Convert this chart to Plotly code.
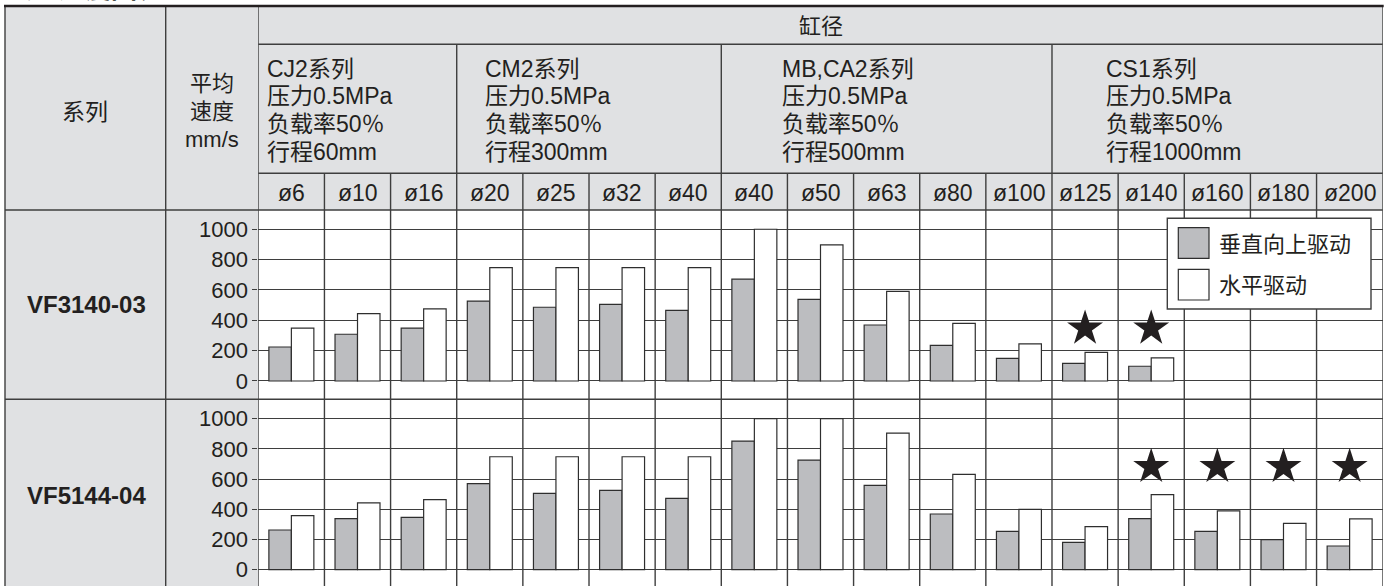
import plotly.graph_objects as go

# ---------------- data ----------------
bores = ["ø6", "ø10", "ø16", "ø20", "ø25", "ø32", "ø40", "ø40", "ø50", "ø63",
         "ø80", "ø100", "ø125", "ø140", "ø160", "ø180", "ø200"]
models = ["VF3140-03", "VF5144-04"]
series_names = ["垂直向上驱动", "水平驱动"]

vf3140_vertical = [224, 308, 349, 527, 486, 505, 466, 672, 538, 369, 235, 149, 116, 97, None, None, None]
vf3140_horizontal = [349, 444, 475, 747, 747, 747, 747, 1000, 897, 591, 380, 244, 189, 152, None, None, None]
vf5144_vertical = [263, 338, 347, 570, 506, 525, 472, 852, 726, 558, 369, 254, 181, 338, 254, 199, 157]
vf5144_horizontal = [358, 442, 464, 748, 748, 748, 748, 1000, 1000, 905, 631, 400, 285, 497, 389, 307, 336]

# columns with a star mark
vf3140_star_cols = [12, 13]
vf5144_star_cols = [13, 14, 15, 16]

group_headers = [
    ["CJ2系列", "压力0.5MPa", "负载率50％", "行程60mm"],
    ["CM2系列", "压力0.5MPa", "负载率50％", "行程300mm"],
    ["MB,CA2系列", "压力0.5MPa", "负载率50％", "行程500mm"],
    ["CS1系列", "压力0.5MPa", "负载率50％", "行程1000mm"],
]
group_bounds = [(0, 2), (3, 6), (7, 11), (12, 16)]
y_ticks = [0, 200, 400, 600, 800, 1000]

# ---------------- styling ----------------
W, H = 1390, 586
FONT = "Liberation Sans, Arial, Noto Sans CJK SC, sans-serif"
TXT = "#231f20"
LINE = "#3e3e3e"
GRAY_BG = "#e0e1e3"
BAR_GRAY = "#bcbdc0"


def X(px):
    return px / W


def Y(py):
    return 1 - py / H


LEFT, COL2, PLOT_L, PLOT_R = 5, 165.7, 258.3, 1382.7
TOP, HDR1, HDR2, ROW1, ROW2 = 6, 44.3, 173.3, 210, 399.3

fig = go.Figure()

rows = [
    (vf3140_vertical, vf3140_horizontal, vf3140_star_cols, 347, "x", "y"),
    (vf5144_vertical, vf5144_horizontal, vf5144_star_cols, 682, "x2", "y2"),
]
xs = list(range(len(bores)))
for vert, horiz, stars, star_level, xa, ya in rows:
    fig.add_trace(go.Bar(x=xs, y=vert, name=series_names[0], xaxis=xa, yaxis=ya,
                         marker=dict(color=BAR_GRAY, line=dict(color="#2e2e2e", width=1.2)),
                         showlegend=False))
    fig.add_trace(go.Bar(x=xs, y=horiz, name=series_names[1], xaxis=xa, yaxis=ya,
                         marker=dict(color="white", line=dict(color="#2e2e2e", width=1.2)),
                         showlegend=False))
    fig.add_trace(go.Scatter(x=stars, y=[star_level] * len(stars), mode="markers",
                             xaxis=xa, yaxis=ya, hoverinfo="skip",
                             marker=dict(symbol="star", size=27, color=TXT, line=dict(width=0)),
                             showlegend=False))

axis_common = dict(showgrid=False, zeroline=False, showticklabels=False, showline=False,
                   range=[-0.5, len(bores) - 0.5], fixedrange=True)
yaxis_common = dict(tickvals=y_ticks, showgrid=True, gridcolor=LINE, gridwidth=1.2,
                    zeroline=False, showline=False, ticks="outside", ticklen=5,
                    tickcolor=LINE, tickwidth=1.2,
                    tickfont=dict(family=FONT, size=22, color=TXT), fixedrange=True)

fig.update_layout(
    width=W, height=H,
    margin=dict(l=0, r=0, t=0, b=0),
    paper_bgcolor="white", plot_bgcolor="white",
    barmode="group", bargap=0.32, bargroupgap=0.0,
    xaxis=dict(domain=[X(PLOT_L), X(PLOT_R)], anchor="y", **axis_common),
    xaxis2=dict(domain=[X(PLOT_L), X(PLOT_R)], anchor="y2", matches="x", **axis_common),
    yaxis=dict(domain=[Y(399), Y(ROW1)], anchor="x", range=[-118.7, 1127], **yaxis_common),
    yaxis2=dict(domain=[0, Y(ROW2)], anchor="x2", range=[-108, 1128.5], **yaxis_common),
    font=dict(family=FONT, color=TXT),
)

shapes = []
# gray backgrounds (outside the plot areas)
shapes.append(dict(type="rect", xref="paper", yref="paper", x0=X(LEFT), x1=X(PLOT_L),
                   y0=0, y1=Y(TOP), fillcolor=GRAY_BG, line=dict(width=0), layer="below"))
shapes.append(dict(type="rect", xref="paper", yref="paper", x0=X(PLOT_L), x1=X(PLOT_R),
                   y0=Y(ROW1), y1=Y(TOP), fillcolor=GRAY_BG, line=dict(width=0), layer="below"))


def hline(py, x0, x1, width=1.4, color=LINE):
    shapes.append(dict(type="line", xref="paper", yref="paper", x0=X(x0), x1=X(x1),
                       y0=Y(py), y1=Y(py), line=dict(color=color, width=width)))


def vline_px(px, y0, y1, width=1.4):
    shapes.append(dict(type="line", xref="paper", yref="paper", x0=X(px), x1=X(px),
                       y0=Y(y0), y1=Y(y1), line=dict(color=LINE, width=width)))


# left-side verticals
vline_px(LEFT, TOP, H + 5)
vline_px(COL2, TOP, H + 5)

# column boundary lines, in axis coordinates
group_edges = {g[0] - 0.5 for g in group_bounds}
for k in range(len(bores) + 1):
    b = k - 0.5
    if k == 0 or k == len(bores):
        top = TOP
    elif b in group_edges:
        top = HDR1
    else:
        top = HDR2
    shapes.append(dict(type="line", xref="x", yref="paper", x0=b, x1=b,
                       y0=Y(H + 5), y1=Y(top), line=dict(color=LINE, width=1.4)))

hline(HDR1, PLOT_L, PLOT_R)
hline(HDR2, PLOT_L, PLOT_R)
hline(ROW1, LEFT, PLOT_R)
hline(399.2, LEFT, PLOT_R)
hline(TOP, LEFT - 1, PLOT_R + 1, width=2.6, color="#231f20")

# legend box
shapes.append(dict(type="rect", xref="paper", yref="paper", x0=X(1167.3), x1=X(1371),
                   y0=Y(309), y1=Y(218.3), fillcolor="white", line=dict(color=LINE, width=1.4)))
shapes.append(dict(type="rect", xref="paper", yref="paper", x0=X(1178.3), x1=X(1209),
                   y0=Y(258.3), y1=Y(227.7), fillcolor=BAR_GRAY, line=dict(color="#2e2e2e", width=1.2)))
shapes.append(dict(type="rect", xref="paper", yref="paper", x0=X(1178.3), x1=X(1209),
                   y0=Y(300), y1=Y(269.3), fillcolor="white", line=dict(color="#2e2e2e", width=1.2)))

fig.update_layout(shapes=shapes)

ann = []


def text(px, py, s, size=22, xanchor="center", bold=False, xref="paper"):
    ann.append(dict(x=X(px) if xref == "paper" else px, y=Y(py), xref=xref, yref="paper",
                    text=("<b>%s</b>" % s) if bold else s, showarrow=False,
                    xanchor=xanchor, yanchor="middle",
                    font=dict(family=FONT, size=size, color=TXT)))


# cut-off page title
text(LEFT, -11, "气缸速度图表", size=26, xanchor="left", bold=True)

text(85, 111.7, "系列", size=23)
for i, s in enumerate(["平均", "速度", "mm/s"]):
    text(211.7, 83.3 + 28.3 * i, s, size=22)
text((PLOT_L + PLOT_R) / 2, 26.5, "缸径", size=22)

group_left_px = [265, 483, 780, 1104]
for lines, lx in zip(group_headers, group_left_px):
    for i, s in enumerate(lines):
        text(lx, 68.5 + 27.7 * i, s, size=23, xanchor="left")

for k, lab in enumerate(bores):
    text(k, 192.5, lab, size=23, xref="x")

text(86, 304.5, models[0], size=24, bold=True)
text(86, 495, models[1], size=24, bold=True)

text(1217, 244, series_names[0], size=22, xanchor="left")
text(1217, 285.5, series_names[1], size=22, xanchor="left")

fig.update_layout(annotations=ann)

fig.write_html("out.html", config={"displayModeBar": False},
               post_script="document.body.style.margin='0';")
